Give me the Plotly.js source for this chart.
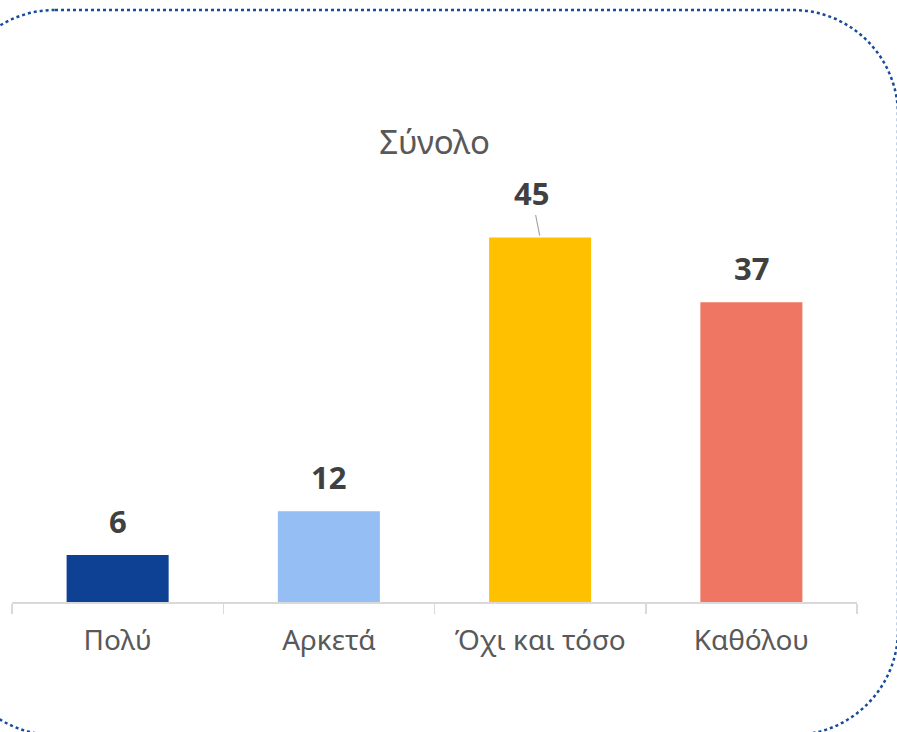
<!DOCTYPE html>
<html>
<head>
<meta charset="utf-8">
<script src="https://cdn.plot.ly/plotly-3.0.1.min.js"></script>
<style>html,body{margin:0;padding:0;background:#fff;}#chart{width:897px;height:732px;}</style>
</head>
<body>
<div id="chart"></div>
<script>
// Data
const categories = ['Πολύ', 'Αρκετά', 'Όχι και τόσο', 'Καθόλου'];
const values = [5.8, 11.2, 45, 37];
const labels = ['6', '12', '45', '37'];
const colors = ['#0E4194', '#95BEF5', '#FFC000', '#EE7662'];
const chartTitle = 'Σύνολο';

const W = 897, H = 732;
const M = {l: 12, r: 40, t: 100, b: 130};
const PW = W - M.l - M.r, PH = H - M.t - M.b;
function px(x) { return (x - M.l) / PW; }
function py(y) { return (H - M.b - y) / PH; }

// rounded border path (pixel geometry converted to paper coords)
function roundedRect(x0, y0, x1, y1, r) {
  const k = 0.5523 * r;
  const P = (x, y) => px(x).toFixed(5) + ',' + py(y).toFixed(5);
  return 'M' + P(x0 + r, y0) +
    ' L' + P(x1 - r, y0) +
    ' C' + P(x1 - r + k, y0) + ' ' + P(x1, y0 + r - k) + ' ' + P(x1, y0 + r) +
    ' L' + P(x1, y1 - r) +
    ' C' + P(x1, y1 - r + k) + ' ' + P(x1 - r + k, y1) + ' ' + P(x1 - r, y1) +
    ' L' + P(x0 + r, y1) +
    ' C' + P(x0 + r - k, y1) + ' ' + P(x0, y1 - r + k) + ' ' + P(x0, y1 - r) +
    ' L' + P(x0, y0 + r) +
    ' C' + P(x0, y0 + r - k) + ' ' + P(x0 + r - k, y0) + ' ' + P(x0 + r, y0) + ' Z';
}

const trace = {
  type: 'bar',
  x: categories,
  y: values,
  marker: {color: colors},
  hoverinfo: 'none'
};

const labelFont = {family: 'Open Sans, sans-serif', size: 31, color: '#404040'};
const annotations = categories.map((c, i) => {
  if (i === 2) {
    return {
      x: c, y: values[i], xref: 'x', yref: 'y',
      text: '<b>' + labels[i] + '</b>',
      showarrow: true, arrowhead: 0, arrowwidth: 1.2, arrowcolor: '#A6A6A6',
      ax: -9, ay: -45, standoff: 2,
      font: labelFont
    };
  }
  return {
    x: c, y: values[i], xref: 'x', yref: 'y',
    text: '<b>' + labels[i] + '</b>',
    showarrow: false, yanchor: 'middle', yshift: 34,
    font: labelFont
  };
});

const layout = {
  width: W, height: H,
  margin: M,
  paper_bgcolor: '#ffffff',
  plot_bgcolor: '#ffffff',
  showlegend: false,
  bargap: 0.517,
  title: {
    text: chartTitle,
    x: 0.5, xref: 'paper', xanchor: 'center',
    y: 1 - 142 / H, yref: 'container', yanchor: 'middle',
    font: {family: 'Noto Sans, sans-serif', size: 33, color: '#595959'}
  },
  xaxis: {
    type: 'category',
    showline: true, linecolor: '#D9D9D9', linewidth: 1.5,
    ticks: 'outside', tickson: 'boundaries', ticklen: 10, tickcolor: '#D9D9D9', tickwidth: 1.5,
    showgrid: false, zeroline: false,
    tickfont: {family: 'Noto Sans, sans-serif', size: 28, color: '#595959'},
    ticklabelstandoff: 13
  },
  yaxis: {
    range: [0, PH / 8.1],
    visible: false, showgrid: false, zeroline: false
  },
  annotations: annotations,
  shapes: [{
    type: 'path', xref: 'paper', yref: 'paper', layer: 'above',
    path: roundedRect(-50, 10, 898, 735, 105),
    line: {color: '#154C9B', width: 2.5, dash: 'dot'}
  }]
};

Plotly.newPlot('chart', [trace], layout, {displayModeBar: false, staticPlot: true});
</script>
</body>
</html>
